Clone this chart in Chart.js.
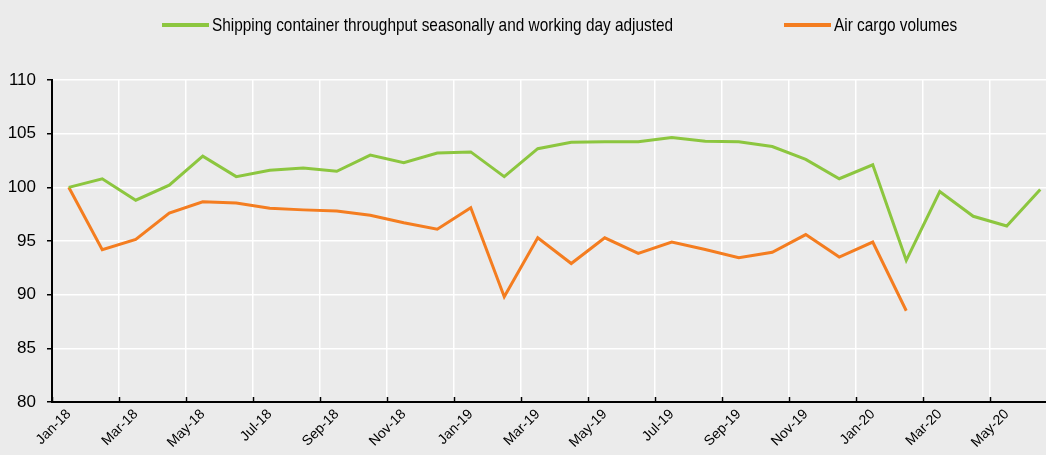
<!DOCTYPE html>
<html>
<head>
<meta charset="utf-8">
<script src="https://cdn.jsdelivr.net/npm/chart.js@4.4.1/dist/chart.umd.min.js"></script>
<style>
   body { margin: 0; background: #ebebeb; overflow: hidden; width: 1046px; height: 455px; position: relative; }
   #wrap { position: absolute; left: 0; top: 0; width: 1060px; height: 455px; }
   .item { position: absolute; top: 13px; height: 24px; display: flex; align-items: center;
      font-family: 'Liberation Sans', Arial, sans-serif; font-size: 19px; color: #000; white-space: nowrap; }
   .item .sw { display: inline-block; width: 47px; height: 4px; margin-right: 3px; }
   .item .lbl { display: inline-block; transform: scaleX(0.81); transform-origin: left center; }
</style>
</head>
<body>
<div id="wrap"><canvas id="myChart"></canvas></div>
<div class="item" style="left:162px"><span class="sw" style="background:#8cc63f"></span><span class="lbl" id="lbl0"></span></div>
<div class="item" style="left:784px"><span class="sw" style="background:#f47d20"></span><span class="lbl" id="lbl1"></span></div>
<script>
const months = ['Jan-18', 'Feb-18', 'Mar-18', 'Apr-18', 'May-18', 'Jun-18', 'Jul-18', 'Aug-18', 'Sep-18', 'Oct-18', 'Nov-18', 'Dec-18',
   'Jan-19', 'Feb-19', 'Mar-19', 'Apr-19', 'May-19', 'Jun-19', 'Jul-19', 'Aug-19', 'Sep-19', 'Oct-19', 'Nov-19', 'Dec-19',
   'Jan-20', 'Feb-20', 'Mar-20', 'Apr-20', 'May-20', 'Jun-20']

const seriesNames = ['Shipping container throughput seasonally and working day adjusted', 'Air cargo volumes']

const shipping = [100, 100.8, 98.8, 100.2, 102.9, 101.0, 101.6, 101.8, 101.5, 103.0, 102.3, 103.2,
   103.3, 101.0, 103.6, 104.2, 104.25, 104.25, 104.65, 104.3, 104.25, 103.8, 102.6, 100.8,
   102.1, 93.2, 99.6, 97.3, 96.4, 99.8]

const airCargo = [100, 94.2, 95.15, 97.6, 98.65, 98.55, 98.05, 97.9, 97.8, 97.4, 96.7, 96.1,
   98.1, 89.8, 95.3, 92.9, 95.3, 93.85, 94.9, 94.2, 93.45, 93.95, 95.6, 93.5,
   94.9, 88.5, null, null, null, null]

const yTicks = [80, 85, 90, 95, 100, 105, 110]

const fontFamily = "'Liberation Sans', Arial, sans-serif"

document.getElementById('lbl0').innerText = seriesNames[0]
document.getElementById('lbl1').innerText = seriesNames[1]

// small black tick marks pointing up from the x axis at every second month boundary
const innerTicks = {
   id: 'innerTicks',
   afterDraw: (chart) => {
      const x = chart.scales.x
      const c = chart.ctx
      const w = (x.getPixelForValue(1) - x.getPixelForValue(0))
      c.save()
      c.strokeStyle = '#000'
      c.lineWidth = 1.5
      for (let i = 0; i <= months.length; i += 2) {
         const px = Math.round(x.getPixelForValue(i) - w / 2) + 0.5
         c.beginPath()
         c.moveTo(px, x.top)
         c.lineTo(px, x.top - 5)
         c.stroke()
      }
      c.restore()
   }
}

const data = {
   labels: months,
   datasets: [{
      label: seriesNames[0],
      data: shipping,
      borderColor: '#8cc63f',
      borderWidth: 3,
      pointRadius: 0,
      tension: 0,
      fill: false
   }, {
      label: seriesNames[1],
      data: airCargo,
      borderColor: '#f47d20',
      borderWidth: 3,
      pointRadius: 0,
      tension: 0,
      fill: false,
      spanGaps: false
   }]
}

const config = {
   type: 'line',
   data: data,
   plugins: [innerTicks],
   options: {
      responsive: true,
      maintainAspectRatio: false,
      animation: false,
      layout: { padding: { top: 80, left: 0, right: 3, bottom: 0 } },
      plugins: {
         legend: { display: false },
         tooltip: { enabled: false }
      },
      scales: {
         x: {
            offset: true,
            afterFit: (axis) => { axis.height = 53; axis.paddingLeft = 0; axis.paddingRight = 0 },
            grid: {
               offset: true,
               color: (ctx) => (ctx.index % 2 === 0 ? '#ffffff' : 'rgba(0,0,0,0)'),
               lineWidth: 1.5,
               drawTicks: false
            },
            border: { color: '#000', width: 2 },
            ticks: {
               autoSkip: false,
               maxRotation: 45,
               minRotation: 45,
               padding: 4,
               color: '#000',
               font: { family: fontFamily, size: 14 },
               callback: function (val, index) { return index % 2 === 0 ? this.getLabelForValue(val) : '' }
            }
         },
         y: {
            min: 80,
            max: 110,
            afterBuildTicks: (axis) => { axis.ticks = yTicks.map(v => ({ value: v })) },
            afterFit: (axis) => { axis.width = 52 },
            grid: {
               color: '#ffffff',
               lineWidth: 1.5,
               tickColor: '#000',
               tickLength: 5
            },
            border: { color: '#000', width: 2 },
            ticks: {
               padding: 11,
               color: '#000',
               font: { family: fontFamily, size: 17 }
            }
         }
      }
   }
}

var ctx = document.getElementById('myChart').getContext('2d')
var myChart = new Chart(ctx, config)
</script>
</body>
</html>
